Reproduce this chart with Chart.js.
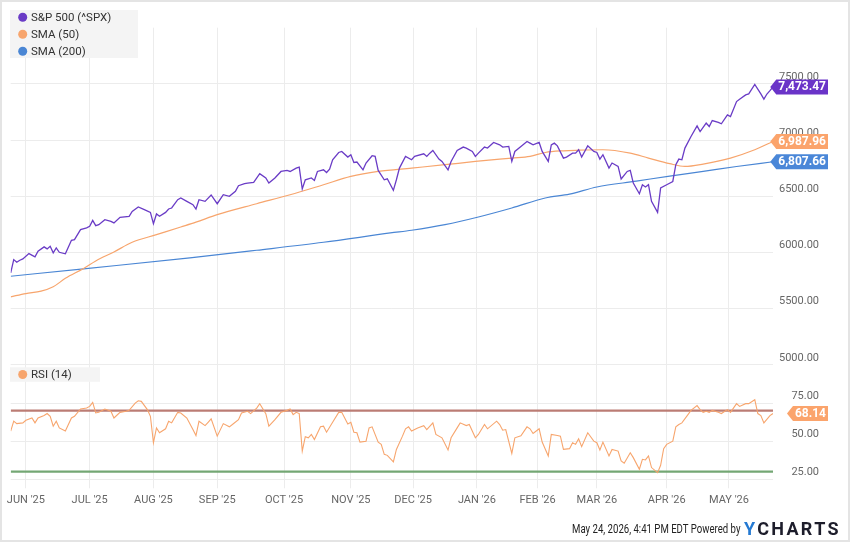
<!DOCTYPE html>
<html><head><meta charset="utf-8">
<script src="https://cdn.jsdelivr.net/npm/chart.js@4.4.1/dist/chart.umd.min.js"></script>
<style>
html,body{margin:0;padding:0;background:#fff;}
#frame{position:relative;width:850px;height:542px;overflow:hidden;background:#fff;}
#c{position:absolute;left:0;top:0;width:850px;height:542px;}
#border{position:absolute;left:0;top:0;width:850px;height:542px;box-sizing:border-box;border:2px solid #e4e4e4;pointer-events:none;}
#foot{position:absolute;right:110px;top:522px;font:12px/14px Roboto,sans-serif;color:#222;white-space:nowrap;transform:scaleX(0.8);transform-origin:right center;}
#logo{position:absolute;left:744px;top:520px;font:bold 18px/18px Roboto,sans-serif;color:#1d1d2b;letter-spacing:2.3px;white-space:nowrap;}
#logo .y{color:#2479d2;}
</style></head><body>
<div id="frame">
<canvas id="c" width="850" height="542"></canvas>
<div id="foot">May 24, 2026, 4:41 PM EDT Powered by</div>
<div id="logo"><span class="y">Y</span>CHARTS</div>
<div id="border"></div>
</div>
<script>
const seriesNames = ['S&P 500 (^SPX)', 'SMA (50)', 'SMA (200)'];
const rsiName = 'RSI (14)';
const monthLabels = ["JUN '25","JUL '25","AUG '25","SEP '25","OCT '25","NOV '25","DEC '25","JAN '26","FEB '26","MAR '26","APR '26","MAY '26"];
const monthTickIdx = [5,26,47,68,90,112,132.5,153.5,173.5,193,216,236.5];
const priceTicks = [5000,5500,6000,6500,7000,7500];
const rsiTicks = [25,50,75];
const rsiLevels = [70,30];

const priceIdx = [0,1,2,3,4,6,8,9,11,12,13,14,15,16,18,20,21,23,25,26,27,28,29,31,33,34,36,39,40,42,44,46,47,48,49,51,52,53,55,56,58,60,61,62,64,66,68,70,72,74,75,77,78,80,82,84,85,87,89,91,92,94,95,96,97,99,100,101,103,104,105,106,108,109,111,112,113,114,116,117,119,120,121,123,124,126,127,128,130,132,133,136,137,138,139,141,142,144,145,147,149,150,152,153,154,156,157,159,161,162,164,165,166,168,170,171,172,174,175,177,178,179,180,182,183,185,186,187,188,190,192,193,194,195,197,198,200,201,203,204,205,207,208,209,210,211,213,214,216,218,219,220,221,222,224,226,227,229,230,231,233,234,236,237,239,240,242,243,245,247,248,249,250,251];
const priceVal = [5819,5937,5913,5931,5943,5990,5961,6011,6050,6032,6055,5997,6041,6002,5988,6109,6115,6204,6219,6233,6286,6239,6248,6292,6277,6263,6313,6322,6366,6405,6381,6357,6257,6343,6322,6357,6387,6396,6470,6485,6455,6426,6387,6470,6455,6512,6434,6514,6500,6544,6594,6612,6618,6624,6701,6663,6618,6663,6721,6730,6721,6751,6760,6565,6647,6663,6641,6721,6736,6712,6742,6825,6890,6899,6849,6870,6801,6805,6736,6796,6861,6855,6730,6647,6656,6553,6647,6751,6855,6825,6855,6878,6855,6884,6908,6831,6810,6736,6810,6908,6938,6929,6899,6855,6884,6938,6929,6979,6958,6938,6944,6810,6899,6944,6988,6973,6958,6979,6899,6810,6958,6973,6949,6840,6849,6884,6884,6914,6849,6949,6899,6890,6831,6870,6751,6796,6766,6654,6721,6730,6618,6523,6603,6583,6603,6455,6357,6574,6603,6632,6781,6831,6825,6929,7032,7127,7076,7151,7121,7174,7157,7145,7225,7210,7343,7364,7402,7411,7495,7411,7364,7410,7440,7473.47];

const sma50Idx = [0,5,10,14,18,24,28,34,40,48,56,61,68,81,92,103,112,121,132,143,153,165,171,176,182,187,195,204,210,217,222,228,237,245,251];
const sma50Val = [5606,5635,5656,5695,5770,5858,5925,6005,6091,6159,6227,6270,6337,6434,6514,6603,6677,6721,6751,6781,6810,6840,6855,6890,6905,6910,6914,6884,6840,6790,6766,6787,6840,6914,6987.96];

const sma200Idx = [0,24,59,81,103,125,132,143,154,165,176,184,193,206,217,228,239,251];
const sma200Val = [5789,5855,5952,6020,6091,6174,6198,6248,6316,6396,6485,6520,6583,6635,6680,6722,6765,6807.66];

const rsiIdx = [0,1,2,4,5,7,8,9,11,12,13,14,15,16,18,20,21,23,25,26,27,28,29,31,33,34,36,38,39,41,42,43,45,46,47,48,49,51,52,53,55,56,58,60,61,62,64,65,66,68,70,72,73,75,76,78,79,81,82,84,85,87,89,91,92,93,94,95,96,97,98,99,100,102,103,104,106,108,109,111,112,113,114,115,117,118,119,121,122,123,124,126,127,129,130,131,132,134,136,137,139,140,142,144,145,147,148,150,151,153,154,156,157,160,161,162,163,165,166,168,170,171,172,174,175,177,178,180,181,182,184,185,186,187,188,190,192,193,194,195,197,198,200,201,202,204,205,207,208,209,210,211,213,214,215,216,218,219,220,221,223,224,226,227,228,229,230,231,233,234,236,237,239,240,242,243,245,246,247,248,250,251];
const rsiVal = [56.6,63.1,61.5,62,63.7,65.2,62,65.2,66.8,68.1,66.3,59.8,63.1,58.7,56.6,65.2,66.3,71.1,71.7,72.8,75.4,68.5,68.9,71.1,69.6,65.2,68.9,69.6,70.2,75,76.5,76.1,70.7,66.3,49,58.7,55.5,58.1,63.1,62,68.9,68.5,65.2,57.6,53.7,63.1,60.2,62.4,64.6,53.3,61.5,59.4,60.9,64.1,68.5,69.6,68.1,71.7,74.6,68,59.8,64.1,68.9,70.2,71.1,67.4,68.9,68.1,43.5,52.9,52.2,54.4,51.1,59.4,59.8,55.9,62.4,68.9,68.9,61.3,62.4,55.9,55.5,49.4,50,58.7,59.4,49.4,47.9,41.4,40.7,36.4,44.6,53.3,58.1,59.4,56.6,58.7,60.2,57.6,62,54.4,52.2,44.2,52.2,58.7,62,60.2,60.9,52.2,54.4,60.9,58.1,63.1,60.9,57.2,57.6,42,52.2,53.5,59.4,58.1,55,58.1,49.4,40.3,54.4,53.7,53.3,44.6,45.1,49,47.9,51.6,46.4,55.5,50,49,44.2,49.4,40.3,44.6,43.5,37,35.5,42.4,39.2,31.6,38.1,37.7,40.3,32.7,29.4,34.2,45.1,47.9,50,59.4,60.9,62,67.4,70.2,73.3,70.7,68.9,69.6,68.9,70.2,68.9,68.1,70.7,68.9,74.6,72.8,74.6,74.6,77.2,68.1,66.8,62,66.8,68.14];

const COL_PRICE = '#6a3cc6', COL_SMA50 = '#f7a56d', COL_SMA200 = '#4a86d4', COL_RSI = '#f7a56d';
const COL_RED = '#bb7c74', COL_GREEN = '#74a774';
const GRID = '#ececec';

const pts = (ix, vals) => ix.map((x, i) => ({x, y: vals[i]}));
const lastIdx = priceIdx[priceIdx.length - 1];

Chart.defaults.font.family = 'Roboto';

function drawFlag(ctx, text, y, color, right) {
  ctx.font = 'bold 12px Roboto';
  const w = ctx.measureText(text).width;
  const h = 15, px = 2, aw = 6;
  const bx = right - w - 2 * px;
  ctx.fillStyle = color;
  ctx.beginPath();
  ctx.moveTo(bx - aw, y);
  ctx.lineTo(bx, y - h / 2);
  ctx.lineTo(right, y - h / 2);
  ctx.lineTo(right, y + h / 2);
  ctx.lineTo(bx, y + h / 2);
  ctx.closePath();
  ctx.fill();
  ctx.fillStyle = '#fff';
  ctx.textAlign = 'left';
  ctx.textBaseline = 'middle';
  ctx.fillText(text, bx + px, y + 0.5);
}

function drawLegend(ctx, x, y, w, h, names, colors) {
  ctx.fillStyle = '#f4f4f4';
  ctx.fillRect(x, y, w, h);
  ctx.font = '11.5px Roboto';
  ctx.textAlign = 'left';
  ctx.textBaseline = 'middle';
  names.forEach((n, i) => {
    const cy = y + 7.2 + i * 17;
    ctx.fillStyle = colors[i];
    ctx.beginPath();
    ctx.arc(x + 12.7, cy, 4.5, 0, Math.PI * 2);
    ctx.fill();
    ctx.fillStyle = '#333';
    ctx.fillText(n, x + 21, cy + 0.5);
  });
}

const fmt = v => v.toLocaleString('en-US', {minimumFractionDigits: 2, maximumFractionDigits: 2});

const overlay = {
  id: 'overlay',
  afterDraw(chart) {
    const ctx = chart.ctx;
    const ys = chart.scales.y, yr = chart.scales.y2;
    ctx.save();
    drawLegend(ctx, 10, 10, 128, 48, seriesNames, [COL_PRICE, COL_SMA50, COL_SMA200]);
    drawLegend(ctx, 10, 367.3, 90, 14.5, [rsiName], [COL_RSI]);
    const R = 828;
    drawFlag(ctx, fmt(priceVal[priceVal.length - 1]), ys.getPixelForValue(priceVal[priceVal.length - 1]), '#6a34c8', R);
    drawFlag(ctx, fmt(sma50Val[sma50Val.length - 1]), ys.getPixelForValue(sma50Val[sma50Val.length - 1]), '#fba46c', R);
    drawFlag(ctx, fmt(sma200Val[sma200Val.length - 1]), ys.getPixelForValue(sma200Val[sma200Val.length - 1]), '#4a87d8', R);
    drawFlag(ctx, fmt(rsiVal[rsiVal.length - 1]), yr.getPixelForValue(rsiVal[rsiVal.length - 1]), '#fba46c', R);
    ctx.restore();
  }
};

new Chart(document.getElementById('c'), {
  type: 'line',
  data: {
    datasets: [
      {label: seriesNames[0], data: pts(priceIdx, priceVal), borderColor: COL_PRICE, borderWidth: 1.3, pointRadius: 0, yAxisID: 'y', tension: 0},
      {label: seriesNames[1], data: pts(sma50Idx, sma50Val), borderColor: COL_SMA50, borderWidth: 1.2, pointRadius: 0, yAxisID: 'y', cubicInterpolationMode: 'monotone'},
      {label: seriesNames[2], data: pts(sma200Idx, sma200Val), borderColor: COL_SMA200, borderWidth: 1.2, pointRadius: 0, yAxisID: 'y', cubicInterpolationMode: 'monotone'},
      {label: rsiName, data: pts(rsiIdx, rsiVal), borderColor: COL_RSI, borderWidth: 1.1, pointRadius: 0, yAxisID: 'y2', tension: 0},
      {label: 'RSI 70', data: [{x: 0, y: rsiLevels[0]}, {x: lastIdx, y: rsiLevels[0]}], borderColor: COL_RED, borderWidth: 2.2, pointRadius: 0, yAxisID: 'y2'},
      {label: 'RSI 30', data: [{x: 0, y: rsiLevels[1]}, {x: lastIdx, y: rsiLevels[1]}], borderColor: COL_GREEN, borderWidth: 2.2, pointRadius: 0, yAxisID: 'y2'}
    ]
  },
  options: {
    responsive: false,
    animation: false,
    events: [],
    layout: {padding: {left: 10.7, right: 0, top: 27.7, bottom: 32.7}},
    plugins: {legend: {display: false}, tooltip: {enabled: false}},
    scales: {
      x: {
        type: 'linear', min: 0, max: lastIdx, position: 'bottom',
        afterBuildTicks: s => { s.ticks = monthTickIdx.map(v => ({value: v})); },
        afterFit: s => { s.height = 30; },
        grid: {color: GRID, tickLength: 9, drawTicks: true},
        border: {display: false},
        ticks: {
          autoSkip: false, maxRotation: 0, padding: 5,
          color: '#666', font: {size: 11},
          callback: v => monthLabels[monthTickIdx.indexOf(v)]
        }
      },
      y: {
        type: 'linear', position: 'right', stack: 'main', stackWeight: 2.948,
        min: 5000, max: 8000,
        afterBuildTicks: s => { s.ticks = priceTicks.map(v => ({value: v})); },
        afterFit: s => { s.width = 77; },
        grid: {color: GRID, drawTicks: false},
        border: {display: false},
        ticks: {padding: 6, labelOffset: -7, color: '#666', font: {size: 11}, callback: v => v.toFixed(2)}
      },
      y2: {
        type: 'linear', position: 'right', stack: 'main', stackWeight: 1,
        min: 25, max: 100,
        afterBuildTicks: s => { s.ticks = rsiTicks.map(v => ({value: v})); },
        afterFit: s => { s.width = 77; },
        grid: {color: GRID, drawTicks: false},
        border: {display: false},
        ticks: {padding: 18.4, labelOffset: -7, color: '#666', font: {size: 11}, callback: v => v.toFixed(2)}
      }
    }
  },
  plugins: [overlay]
});
</script>
</body></html>
